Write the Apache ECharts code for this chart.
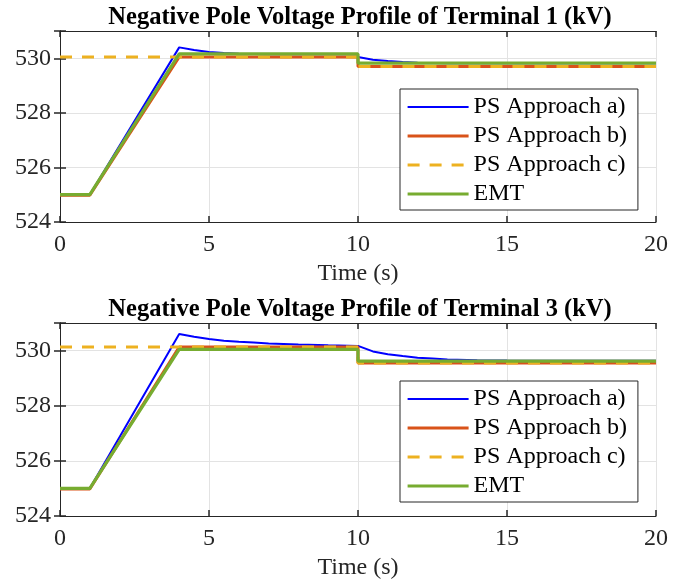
<!DOCTYPE html>
<html>
<head>
<meta charset="utf-8">
<script src="https://cdn.jsdelivr.net/npm/echarts@6/dist/echarts.min.js"></script>
<style>
  html, body { margin: 0; padding: 0; background: #fff; }
  #chart { width: 693px; height: 582px; }
</style>
</head>
<body>
<div id="chart"></div>
<script>
const seriesNames = ['PS Approach a)', 'PS Approach b)', 'PS Approach c)', 'EMT']
const titles = [
  'Negative Pole Voltage Profile of Terminal 1 (kV)',
  'Negative Pole Voltage Profile of Terminal 3 (kV)',
]
const xTicks = [0, 5, 10, 15, 20]
const yTicks = [524, 526, 528, 530]

// Terminal 1, [time s, kV]
const t1A = [[0, 525], [1, 525], [4, 530.4], [4.5, 530.3], [5, 530.23], [5.5, 530.19], [6, 530.17], [7, 530.15],
  [10, 530.15], [10, 530.05], [10.5, 529.95], [11, 529.9], [11.5, 529.86], [12, 529.84], [13, 529.82], [20, 529.82]]
const t1B = [[0, 524.98], [1, 524.98], [4, 530.05], [10, 530.05], [10, 529.7], [20, 529.7]]
const t1C = [[0, 530.05], [10, 530.05], [10, 529.7], [20, 529.7]]
const t1Emt = [[0, 525], [1, 525], [4, 530.16], [10, 530.16], [10, 529.82], [20, 529.82]]

// Terminal 3, [time s, kV]
const t3A = [[0, 525], [1, 525], [4, 530.6], [4.5, 530.5], [5, 530.42], [5.5, 530.36], [6, 530.32], [6.5, 530.29],
  [7, 530.26], [8, 530.22], [9, 530.19], [10, 530.17], [10, 530.12], [10.5, 529.97], [11, 529.87], [11.5, 529.8],
  [12, 529.74], [12.5, 529.71], [13, 529.68], [14, 529.65], [15, 529.64], [20, 529.63]]
const t3B = [[0, 524.98], [1, 524.98], [4, 530.13], [10, 530.13], [10, 529.55], [20, 529.55]]
const t3C = [[0, 530.13], [10, 530.13], [10, 529.55], [20, 529.55]]
const t3Emt = [[0, 525], [1, 525], [4, 530.04], [10, 530.04], [10, 529.62], [20, 529.62]]

const panels = [
  { top: 31, height: 191, data: [t1A, t1B, t1C, t1Emt] },
  { top: 323, height: 193, data: [t3A, t3B, t3C, t3Emt] },
]

const FONT = "'Liberation Serif', 'DejaVu Serif', serif"
const INK = '#262626'
const styles = [
  { color: '#0000ff', width: 2, type: 'solid' },
  { color: '#d95319', width: 3, type: 'solid' },
  { color: '#edb120', width: 3, type: [12, 10] },
  { color: '#77ac30', width: 3.2, type: 'solid' },
]

const grid = [], xAxis = [], yAxis = [], series = [], title = [], legend = []
panels.forEach((p, i) => {
  grid.push({ left: 60, width: 596, top: p.top, height: p.height, containLabel: false })
  title.push({
    text: titles[i], left: 355, top: p.top - 31, textAlign: 'center',
    textStyle: { fontFamily: FONT, fontSize: 24.5, fontWeight: 'bold', color: '#000' },
  })
  const axLine = { show: true, lineStyle: { color: INK, width: 1 } }
  const tick = { show: true, inside: true, length: 6, lineStyle: { color: INK, width: 1.5 } }
  xAxis.push({
    gridIndex: i, type: 'value', min: xTicks[0], max: xTicks[xTicks.length - 1], interval: 5,
    position: 'bottom', axisLine: axLine, axisTick: tick,
    axisLabel: { color: INK, fontFamily: FONT, fontSize: 24, margin: 11 },
    splitLine: { show: true, lineStyle: { color: '#e3e3e3' } },
    name: 'Time (s)', nameLocation: 'middle', nameGap: 40,
    nameTextStyle: { color: INK, fontFamily: FONT, fontSize: 24 },
  })
  xAxis.push({
    gridIndex: i, type: 'value', min: xTicks[0], max: xTicks[xTicks.length - 1], interval: 5,
    position: 'top', axisLine: axLine, axisTick: tick, axisLabel: { show: false }, splitLine: { show: false },
  })
  yAxis.push({
    gridIndex: i, type: 'value', min: yTicks[0], max: 531, interval: 2,
    position: 'left', axisLine: axLine, axisTick: tick,
    axisLabel: {
      color: INK, fontFamily: FONT, fontSize: 24, margin: 9,
      formatter: v => (yTicks.includes(v) ? String(v) : ''),
    },
    splitLine: { show: true, lineStyle: { color: '#e3e3e3' } },
  })
  yAxis.push({
    gridIndex: i, type: 'value', min: yTicks[0], max: 531, interval: 2,
    position: 'right', axisLine: axLine, axisTick: tick, axisLabel: { show: false }, splitLine: { show: false },
  })
  p.data.forEach((d, k) => {
    series.push({
      name: seriesNames[k], type: 'line', xAxisIndex: i * 2, yAxisIndex: i * 2,
      data: d, symbol: 'none', smooth: false, animation: false,
      lineStyle: styles[k], itemStyle: { color: styles[k].color },
      emphasis: { disabled: true }, z: 2 + k,
    })
  })
  legend.push({
    data: seriesNames.map((n, k) => ({ name: n, lineStyle: { width: styles[k].width } })),
    orient: 'vertical', left: 400, top: p.top + 58,
    itemWidth: 61, itemHeight: 14, itemGap: 5,
    padding: [6, 11, 4, 6], backgroundColor: '#fff', borderColor: INK, borderWidth: 1, borderRadius: 0,
    itemStyle: { opacity: 0 },
    textStyle: { fontFamily: FONT, fontSize: 24, color: '#000' },
    selectedMode: false,
  })
})

const chart = echarts.init(document.getElementById('chart'), null, { renderer: 'canvas' })
chart.setOption({
  animation: false,
  backgroundColor: '#fff',
  title, legend, grid, xAxis, yAxis, series,
})
</script>
</body>
</html>
